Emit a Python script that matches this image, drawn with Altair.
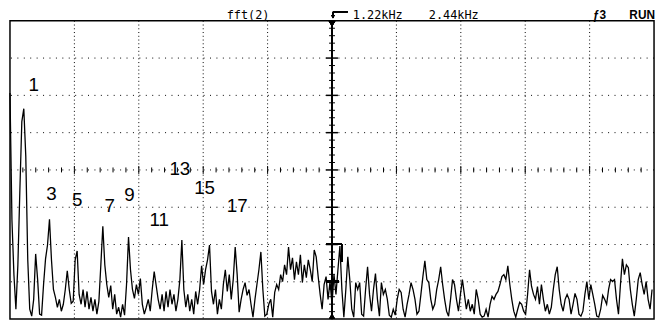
import altair as alt
import pandas as pd

SPAN_KHZ = 12.2          # 10 divisions x 1.22 kHz
FULL = 302               # 8 vertical divisions (level units)

# spectrum magnitude, one sample every 1/326 of the span (left -> right)
level = [
    229, 100, 45, 10, 55, 130, 200, 213, 165, 60,
    10, 3, 20, 66, 40, 5, 4, 35, 61, 75,
    101, 60, 30, 22, 12, 20, 8, 15, 30, 49,
    30, 16, 18, 60, 69, 25, 15, 30, 12, 28,
    10, 22, 8, 20, 5, 18, 55, 94, 55, 35,
    22, 34, 10, 25, 5, 12, 2, 15, 4, 35,
    83, 50, 30, 21, 35, 25, 41, 15, 5, 12,
    20, 8, 30, 48, 34, 20, 10, 25, 8, 28,
    12, 30, 15, 25, 8, 20, 40, 80, 30, 12,
    25, 8, 20, 5, 28, 15, 30, 54, 35, 50,
    60, 75, 28, 15, 30, 5, 20, 10, 35, 50,
    28, 45, 20, 40, 73, 45, 7, 20, 30, 37,
    24, 30, 15, 2, 20, 35, 50, 68, 30, 3,
    5, 15, 20, 2, 27, 35, 30, 45, 38, 55,
    45, 73, 50, 62, 40, 58, 45, 65, 37, 55,
    42, 60, 50, 38, 70, 63, 43, 25, 10, 35,
    43, 20, 38, 15, 45, 25, 50, 74, 30, 2,
    30, 63, 40, 10, 2, 37, 30, 37, 5, 3,
    30, 53, 25, 8, 30, 46, 20, 3, 37, 25,
    30, 20, 4, 2, 10, 4, 20, 30, 27, 10,
    2, 15, 25, 37, 30, 20, 5, 8, 25, 43,
    59, 40, 37, 20, 10, 15, 30, 40, 53, 35,
    20, 8, 3, 20, 40, 35, 20, 8, 25, 40,
    25, 10, 20, 8, 15, 5, 30, 20, 5, 2,
    3, 10, 2, 15, 23, 20, 25, 28, 35, 43,
    45, 40, 54, 35, 20, 8, 2, 10, 17, 15,
    8, 5, 25, 50, 33, 25, 20, 33, 15, 35,
    20, 8, 15, 5, 12, 30, 45, 53, 30, 15,
    8, 20, 25, 20, 5, 15, 26, 20, 5, 3,
    8, 25, 38, 20, 35, 25, 15, 3, 2, 10,
    24, 20, 15, 30, 40, 38, 40, 20, 5, 35,
    61, 45, 55, 52, 30, 15, 3, 20, 40, 47,
    35, 25, 38, 20, 10, 30,
]

harmonics = ["1", "3", "5", "7", "9", "11", "13", "15", "17"]

header_left = "fft(2)"
header_cursor1 = "1.22kHz"
header_cursor2 = "2.44kHz"
header_trig = "ƒ3"
header_state = "RUN"

# annotation anchor points for harmonic labels (kHz, level)
label_freq = [0.449, 0.786, 1.272, 1.890, 2.264, 2.825, 3.218, 3.686, 4.304]
label_level = [231, 121, 114, 108, 120, 94, 146, 127, 108]

# ---------------- tables ----------------
n = len(level)
step = SPAN_KHZ / n
trace = pd.DataFrame({"freq": [i * step for i in range(n)], "level": level})
labels = pd.DataFrame({"txt": harmonics, "freq": label_freq, "level": label_level})

DIV_X = SPAN_KHZ / 10
DIV_Y = FULL / 8
vgrid = pd.DataFrame({"f": [k * DIV_X for k in range(1, 10) if k != 5]})
hgrid = pd.DataFrame({"l": [k * DIV_Y for k in range(1, 8)]})
hticks = pd.DataFrame({"f": [k * DIV_X / 5 for k in range(1, 50) if k % 5 != 0]})
hticks_major = pd.DataFrame({"f": [k * DIV_X for k in range(1, 10)]})
vticks = pd.DataFrame({"l": [k * DIV_Y / 5 for k in range(1, 40) if k % 5 != 0]})
vticks_major = pd.DataFrame({"l": [k * DIV_Y for k in range(1, 8)]})

W, H = 652, 302
xs = alt.Scale(domain=[0, SPAN_KHZ], nice=False, zero=False)
ys = alt.Scale(domain=[0, FULL], nice=False, zero=True)
CX = W / 2
CY = H / 2

X = lambda f: alt.X(f, type="quantitative", scale=xs, axis=None)
Y = lambda f: alt.Y(f, type="quantitative", scale=ys, axis=None)

vg = alt.Chart(vgrid).mark_rule(color="black", strokeWidth=1, strokeDash=[1, 2.8]).encode(x=X("f"))
hg = alt.Chart(hgrid).mark_rule(color="black", strokeWidth=1, strokeDash=[1, 5.5]).encode(y=Y("l"))

ht = alt.Chart(hticks).mark_rule(color="black", strokeWidth=1).encode(
    x=X("f"), y=alt.value(CY - 2.5), y2=alt.value(CY + 2.5))
htm = alt.Chart(hticks_major).mark_rule(color="black", strokeWidth=1).encode(
    x=X("f"), y=alt.value(CY - 4), y2=alt.value(CY + 4))

vaxis = alt.Chart(vgrid).mark_rule(color="black", strokeWidth=1).encode(
    x=alt.value(CX), y=alt.value(0), y2=alt.value(H))
vt = alt.Chart(vticks).mark_rule(color="black", strokeWidth=1).encode(
    y=Y("l"), x=alt.value(CX - 3), x2=alt.value(CX + 3))
vtm = alt.Chart(vticks_major).mark_rule(color="black", strokeWidth=1.5).encode(
    y=Y("l"), x=alt.value(CX - 6), x2=alt.value(CX + 6))

top_marker = alt.Chart(vgrid).mark_point(shape="triangle-down", filled=True, color="black", size=45, opacity=1).encode(
    x=alt.value(CX), y=alt.value(3))
bot_marker = alt.Chart(vgrid).mark_point(shape="triangle-up", filled=True, color="black", size=30, opacity=1).encode(
    x=alt.value(CX), y=alt.value(H - 3))
bracket_h = alt.Chart(vgrid).mark_rule(color="black", strokeWidth=1.2).encode(
    x=alt.value(CX - 6), x2=alt.value(CX + 10), y=alt.value(226))
bracket_v = alt.Chart(vgrid).mark_rule(color="black", strokeWidth=1.2).encode(
    x=alt.value(CX + 10), y=alt.value(226), y2=alt.value(244))
ground = alt.Chart(vgrid).mark_rule(color="black", strokeWidth=2).encode(
    x=alt.value(CX - 6), x2=alt.value(CX + 7), y=alt.value(264))

line = alt.Chart(trace).mark_line(color="black", strokeWidth=1.3, interpolate="linear").encode(
    x=X("freq"), y=Y("level"))

lab = alt.Chart(labels).mark_text(font="Liberation Sans", fontSize=19, color="black",
                                  align="center", baseline="alphabetic").encode(
    x=X("freq"), y=Y("level"), text="txt:N")

mono = "DejaVu Sans Mono"
def hdr(txt, x, align="left", font=mono, size=12, weight="normal"):
    return alt.Chart(pd.DataFrame({"t": [txt]})).mark_text(
        font=font, fontSize=size, fontWeight=weight, color="black",
        align=align, baseline="alphabetic").encode(
        x=alt.value(x), y=alt.value(-1.5), text="t:N")

h1 = hdr(header_left, 241, align="center")
h2 = hdr(header_cursor1, 347)
h3 = hdr(header_cursor2, 424)
h4 = hdr(header_trig, 590, font="Liberation Sans", size=12, weight="bold")
h5 = hdr(header_state, 653, align="right", font="Liberation Sans", size=12, weight="bold")

arr_h = alt.Chart(vgrid).mark_rule(color="black", strokeWidth=1).encode(
    x=alt.value(CX + 1), x2=alt.value(CX + 16), y=alt.value(-9))
arr_v = alt.Chart(vgrid).mark_rule(color="black", strokeWidth=1).encode(
    x=alt.value(CX + 1), y=alt.value(-9), y2=alt.value(-4))
arr_tip = alt.Chart(vgrid).mark_point(shape="triangle-down", filled=True, color="black", size=12, opacity=1).encode(
    x=alt.value(CX + 1), y=alt.value(-4))

chart = alt.layer(
    vg, hg, ht, htm, vaxis, vt, vtm, bracket_h, bracket_v, ground,
    line, top_marker, bot_marker, lab, h1, h2, h3, h4, h5, arr_h, arr_v, arr_tip
).properties(
    width=W, height=H,
    padding={"left": 2, "top": 11, "right": 3, "bottom": 2},
    autosize=alt.AutoSizeParams(type="none"),
    background="white",
).configure_view(stroke="black", strokeWidth=1.5)

chart.save("out.html", embed_options={"renderer": "svg", "actions": False})
